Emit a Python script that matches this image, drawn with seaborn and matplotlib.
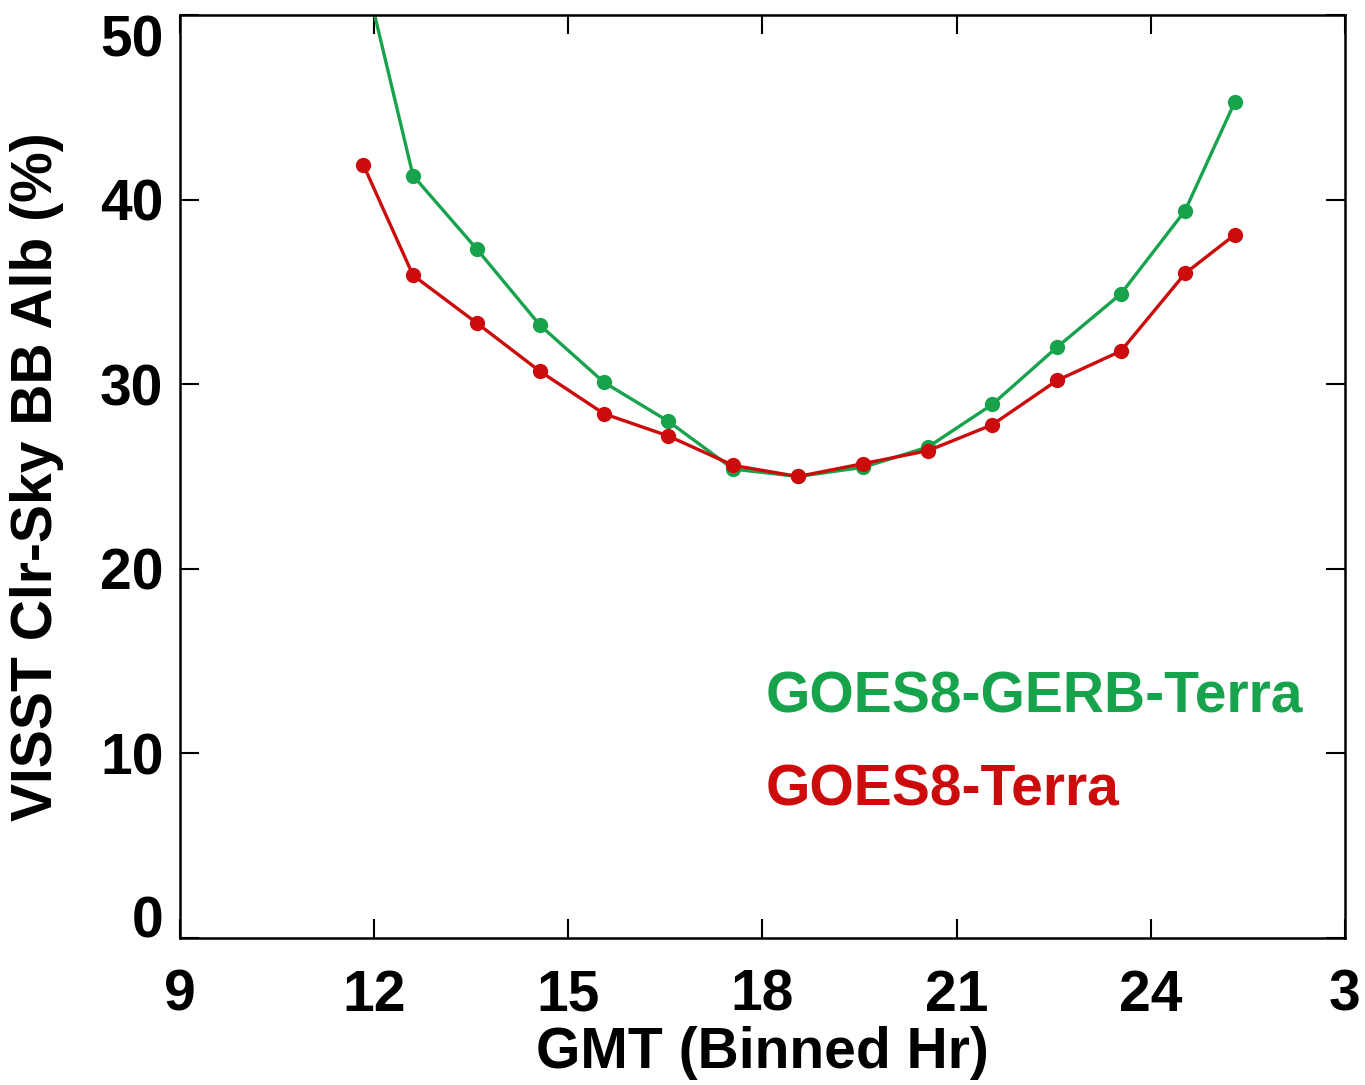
import numpy as np
import pandas as pd
import seaborn as sns
import matplotlib.pyplot as plt

# binned GMT hour
gmt_hr = [11.83, 12.6, 13.59, 14.56, 15.55, 16.54, 17.55, 18.55,
          19.56, 20.56, 21.55, 22.55, 23.54, 24.53, 25.3]
# clear-sky broadband albedo (%)
goes_gerb_terra = [52.6, 41.3, 37.3, 33.2, 30.1, 28.0, 25.4, 25.0,
                   25.5, 26.6, 28.9, 32.0, 34.9, 39.4, 45.3]
goes_terra = [41.9, 35.9, 33.3, 30.7, 28.4, 27.2, 25.6, 25.0,
              25.7, 26.4, 27.8, 30.2, 31.8, 36.0, 38.1]

series_names = ["GOES8-GERB-Terra", "GOES8-Terra"]
series_colors = ["#16a34c", "#cc0c0c"]
x_ticks = [9, 12, 15, 18, 21, 24, 27]
x_tick_labels = ["9", "12", "15", "18", "21", "24", "3"]
y_ticks = [0, 10, 20, 30, 40, 50]

df = pd.DataFrame({
    "hr": gmt_hr * 2,
    "alb": goes_gerb_terra + goes_terra,
    "series": [series_names[0]] * len(gmt_hr) + [series_names[1]] * len(gmt_hr),
})

sns.set_style("ticks")
plt.rcParams["font.family"] = ["Liberation Sans", "DejaVu Sans"]
plt.rcParams["font.weight"] = "bold"
plt.rcParams["text.color"] = "black"
plt.rcParams["axes.labelcolor"] = "black"
plt.rcParams["xtick.color"] = "black"
plt.rcParams["ytick.color"] = "black"

fig = plt.figure(figsize=(13.65, 10.85), dpi=100)
ax = fig.add_axes([0.1319, 0.1355, 0.8534, 0.8507])

sns.lineplot(data=df, x="hr", y="alb", hue="series",
             palette=dict(zip(series_names, series_colors)),
             marker="o", markersize=11, markeredgewidth=0,
             linewidth=2.4, legend=False, ax=ax)

ax.set_xlim(9, 27)
ax.set_ylim(0, 50)
ax.set_xticks(x_ticks)
ax.set_xticklabels(x_tick_labels)
ax.set_yticks(y_ticks)

ax.tick_params(axis="both", direction="in", length=14, width=1.5,
               labelsize=41, top=True, right=True, colors="black")
ax.tick_params(axis="x", pad=22)
ax.tick_params(axis="y", pad=12)
for sp in ax.spines.values():
    sp.set_linewidth(1.8)
    sp.set_color("black")

# end labels of y axis sit inside the frame, as in the original
ylabels = ax.get_yticklabels()
ylabels[0].set_va("baseline")
ylabels[-1].set_va("top")

ax.set_xlabel("GMT (Binned Hr)", fontsize=41, fontweight="bold")
ax.set_ylabel("VISST Clr-Sky BB Alb (%)", fontsize=41, fontweight="bold")
ax.xaxis.set_label_coords(0.5, -0.095)
ax.yaxis.set_label_coords(-0.1, 0.5)

ax.text(18.05, 13.05, series_names[0], color=series_colors[0],
        fontsize=41, fontweight="bold", va="center", ha="left")
ax.text(18.05, 8.0, series_names[1], color=series_colors[1],
        fontsize=41, fontweight="bold", va="center", ha="left")

fig.savefig("out.png", dpi=100)
